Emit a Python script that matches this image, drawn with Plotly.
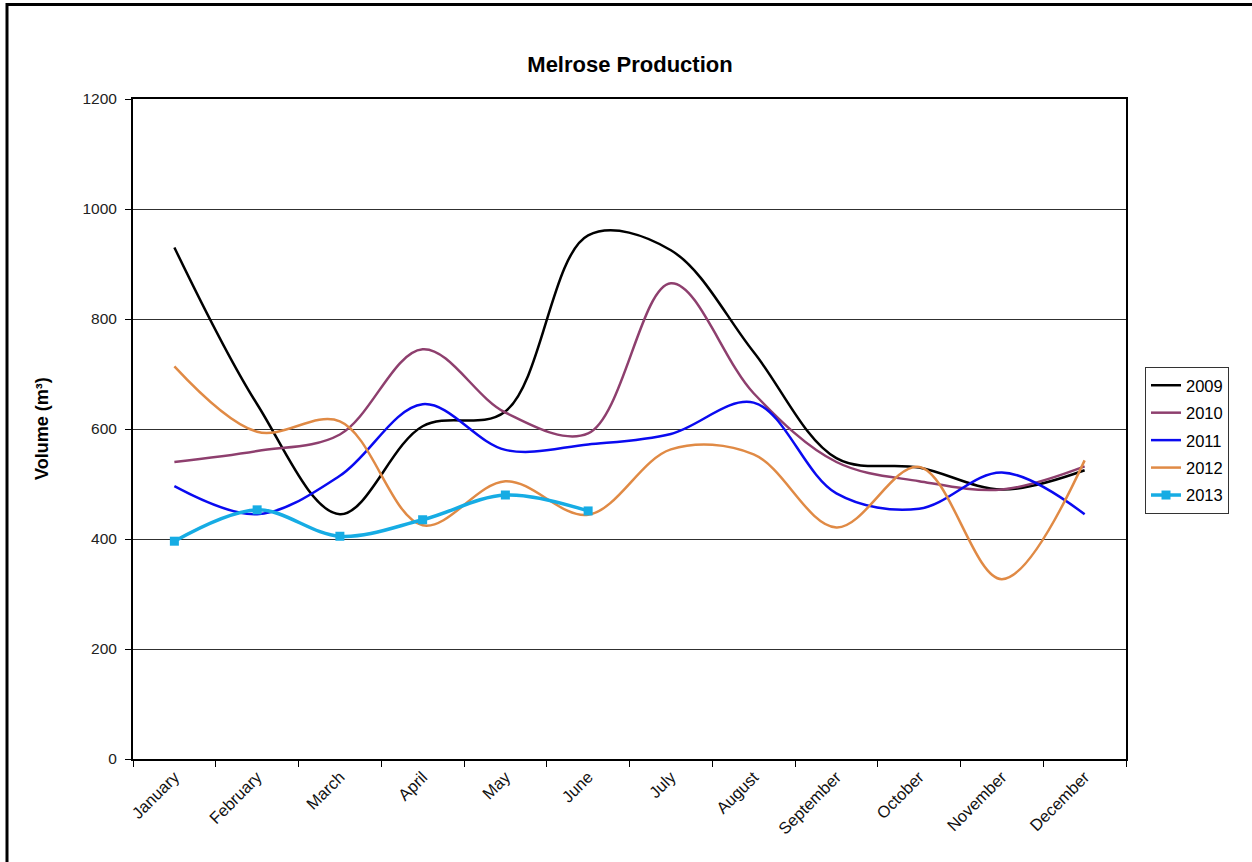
import plotly.graph_objects as go

months = ["January", "February", "March", "April", "May", "June",
          "July", "August", "September", "October", "November", "December"]

vol_2009 = [930, 645, 445, 605, 632, 952, 925, 740, 547, 530, 490, 525]
vol_2010 = [540, 560, 590, 745, 630, 592, 865, 665, 540, 505, 490, 532]
vol_2011 = [496, 445, 515, 645, 562, 572, 591, 648, 483, 455, 521, 445]
vol_2012 = [714, 595, 614, 425, 505, 444, 563, 554, 421, 531, 327, 543]
vol_2013 = [396, 453, 405, 435, 480, 451]

series = [
    ("2009", vol_2009, "#000000", 2.5, False),
    ("2010", vol_2010, "#8E3F6E", 2.5, False),
    ("2011", vol_2011, "#0A0AF0", 2.5, False),
    ("2012", vol_2012, "#E08A45", 2.5, False),
    ("2013", vol_2013, "#16ACE4", 3.5, True),
]

fig = go.Figure()
for name, vals, color, width, with_markers in series:
    fig.add_trace(go.Scatter(
        x=months[:len(vals)],
        y=vals,
        name=name,
        legendgroup=name,
        mode="lines+markers" if with_markers else "lines",
        line=dict(color=color, width=width, shape="spline", smoothing=1),
        marker=dict(symbol="square", size=9, color=color),
    ))

FONT = "Liberation Sans, Arial, sans-serif"

# plot area spans pixels 133..1126 horizontally and 99..759 vertically
L, R, T, B = 133, 1252 - 1126, 99, 862 - 759
W_PLOT, H_PLOT = 1252 - L - R, 862 - T - B

fig.update_layout(
    width=1252,
    height=862,
    margin=dict(l=L, r=R, t=T, b=B),
    paper_bgcolor="white",
    plot_bgcolor="white",
    font=dict(family=FONT, size=15, color="black"),
    title=dict(
        text="<b>Melrose Production</b>",
        font=dict(family=FONT, size=22, color="black"),
        x=630 / 1252, xanchor="center",
        y=1 - 64 / 862, yanchor="middle",
    ),
    xaxis=dict(
        type="category",
        categoryorder="array",
        categoryarray=months,
        range=[-0.5, 11.5],
        tickson="boundaries",
        ticks="outside",
        ticklen=6,
        tickwidth=1,
        tickcolor="black",
        tickangle=-45,
        tickfont=dict(family=FONT, size=16.5, color="#111111"),
        showline=True,
        linecolor="black",
        linewidth=2,
        mirror=True,
        showgrid=False,
        zeroline=False,
    ),
    yaxis=dict(
        range=[0, 1200],
        dtick=200,
        tick0=0,
        ticks="outside",
        ticklen=6,
        tickwidth=1,
        tickcolor="black",
        tickfont=dict(family=FONT, size=15.5, color="#222222"),
        ticklabelstandoff=5,
        showline=True,
        linecolor="black",
        linewidth=2,
        mirror=True,
        showgrid=True,
        gridcolor="#303030",
        gridwidth=1,
        zeroline=False,
    ),
    legend=dict(
        x=(1145 - L) / W_PLOT,
        y=(759 - 367) / H_PLOT,
        xanchor="left",
        yanchor="top",
        bordercolor="#333333",
        borderwidth=1,
        bgcolor="white",
        font=dict(family=FONT, size=16.5, color="black"),
        tracegroupgap=3,
        itemwidth=30,
    ),
    showlegend=True,
    annotations=[
        dict(
            text="<b>Volume (m³)</b>",
            textangle=-90,
            x=(42 - L) / W_PLOT,
            y=0.5,
            xref="paper",
            yref="paper",
            xanchor="center",
            yanchor="middle",
            showarrow=False,
            font=dict(family=FONT, size=18, color="black"),
        )
    ],
    shapes=[
        # outer chart frame
        dict(
            type="rect",
            xref="paper",
            yref="paper",
            x0=(7 - L) / W_PLOT,
            x1=(1300 - L) / W_PLOT,
            y0=(759 - 900) / H_PLOT,
            y1=(759 - 4.5) / H_PLOT,
            line=dict(color="black", width=3),
            fillcolor="rgba(0,0,0,0)",
        )
    ],
)

fig.write_html("out.html")
